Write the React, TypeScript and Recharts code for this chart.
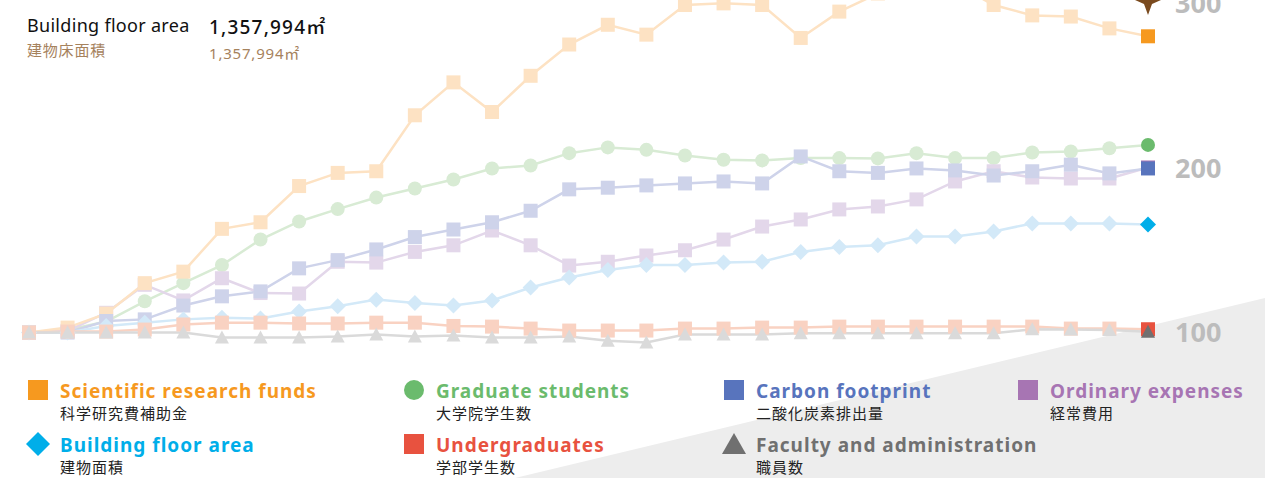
import React from "react";
import { LineChart, Line, XAxis, YAxis, ReferenceDot } from "recharts";

const years = [
  "1990", "1991", "1992", "1993", "1994", "1995", "1996", "1997", "1998", "1999",
  "2000", "2001", "2002", "2003", "2004", "2005", "2006", "2007", "2008", "2009",
  "2010", "2011", "2012", "2013", "2014", "2015", "2016", "2017", "2018", "2019",
];

// index values, first year = 100
const researchFunds = [100, 103, 111.5, 130, 137, 163, 167, 189, 197, 198, 232, 252, 234, 256, 275, 287, 281, 299, 300, 299, 279, 295, 306, 315, 312, 299, 292.7, 292, 284.8, 280];
const graduateStudents = [100, 101.5, 106.7, 119, 130, 141, 156.5, 167.5, 175, 182, 187.5, 193, 199.7, 201.5, 209, 212.5, 211, 207.6, 205, 204.6, 206, 206, 205.8, 209, 206, 206, 209.4, 210, 212, 214];
const carbonFootprint = [100, 100, 107, 108, 116.4, 122, 125, 139, 144, 150.5, 158, 162.6, 167, 174, 187, 188, 189.4, 190.6, 191.8, 190.6, 207, 198, 197, 199.7, 198.5, 195.4, 198, 202, 196.7, 199.7];
const ordinaryExpenses = [100, 101, 112, 129, 119.5, 133, 124, 123.7, 143, 142.5, 149, 153, 162, 153, 140.7, 143, 146.8, 150, 156.5, 164.4, 168.7, 174.8, 176.6, 180.9, 191.8, 198, 194.2, 193.6, 193.6, 200.3];
const floorArea = [100, 100, 104, 106, 108, 109, 108.5, 112.8, 116, 120, 118, 116.4, 119.5, 127.4, 133.4, 138, 141, 141, 142.5, 143, 149, 152, 153, 158.4, 158.4, 161.4, 166.3, 166.3, 166.3, 165.7];
const undergraduates = [100, 100.6, 100.6, 101.8, 104.9, 106, 106, 105.5, 105.5, 106, 106, 104, 103.6, 102.4, 101.2, 101.2, 101.2, 102.4, 102.4, 103, 103, 103.6, 103.6, 103.6, 103.6, 103.6, 103.6, 102.4, 102.4, 102];
const facultyStaff = [100, 100, 100, 100, 100, 97, 97, 97, 97.6, 98.8, 97.6, 98.2, 97, 97, 97.6, 95, 94, 98.8, 98.8, 98.8, 99.5, 99.5, 99.5, 99.5, 99.5, 99.5, 102, 101.8, 101.5, 100.5];

const yTicks = [100, 200, 300];
const markerValue = 302; // brown pin on the latest year

const data = years.map((yr, i) => ({
  yr,
  research: researchFunds[i],
  graduate: graduateStudents[i],
  carbon: carbonFootprint[i],
  expenses: ordinaryExpenses[i],
  floor: floorArea[i],
  undergrad: undergraduates[i],
  faculty: facultyStaff[i],
}));

type Shape = "square" | "circle" | "diamond" | "triangle";

function drawMarker(shape: Shape, cx: number, cy: number, size: number, fill: string, key: string) {
  const h = size / 2;
  if (shape === "circle") return <circle key={key} cx={cx} cy={cy} r={h} fill={fill} />;
  if (shape === "diamond")
    return <polygon key={key} points={`${cx},${cy - h - 1} ${cx + h + 1},${cy} ${cx},${cy + h + 1} ${cx - h - 1},${cy}`} fill={fill} />;
  if (shape === "triangle")
    return <polygon key={key} points={`${cx},${cy - h} ${cx + h},${cy + h - 1} ${cx - h},${cy + h - 1}`} fill={fill} />;
  return <rect key={key} x={cx - h} y={cy - h} width={size} height={size} fill={fill} />;
}

function makeDot(shape: Shape, faded: string, full: string, size = 14) {
  return (props: any) => {
    const { cx, cy, index } = props;
    const last = index === years.length - 1;
    return drawMarker(shape, cx, cy, size, last ? full : faded, `d-${index}`);
  };
}

const SERIES = [
  { key: "graduate", shape: "circle" as Shape, faded: "#d8ebd4", full: "#6bbb6d" },
  { key: "expenses", shape: "square" as Shape, faded: "#e3d7ea", full: "#a775b3" },
  { key: "research", shape: "square" as Shape, faded: "#fde2c3", full: "#f6991f" },
  { key: "carbon", shape: "square" as Shape, faded: "#ced3ea", full: "#5874bd" },
  { key: "floor", shape: "diamond" as Shape, faded: "#d3e9f8", full: "#00aee9" },
  { key: "undergrad", shape: "square" as Shape, faded: "#f9d2c2", full: "#e8523f" },
  { key: "faculty", shape: "triangle" as Shape, faded: "#dadada", full: "#707070" },
];

function Pin(props: any) {
  const { cx, cy } = props;
  const c = "#7a4a1e";
  return (
    <polygon
      points={`${cx},${cy - 15} ${cx + 4},${cy - 4} ${cx + 13},${cy} ${cx + 4},${cy + 4} ${cx},${cy + 15} ${cx - 4},${cy + 4} ${cx - 13},${cy} ${cx - 4},${cy - 4}`}
      fill={c}
    />
  );
}

const LEGEND = [
  { en: "Scientific research funds", jp: "科学研究費補助金", color: "#f6991f", shape: "square", x: 28, y: 390 },
  { en: "Graduate students", jp: "大学院学生数", color: "#6bbb6d", shape: "circle", x: 404, y: 390 },
  { en: "Carbon footprint", jp: "二酸化炭素排出量", color: "#5874bd", shape: "square", x: 724, y: 390 },
  { en: "Ordinary expenses", jp: "経常費用", color: "#a775b3", shape: "square", x: 1018, y: 390 },
  { en: "Building floor area", jp: "建物面積", color: "#00aee9", shape: "diamond", x: 28, y: 444 },
  { en: "Undergraduates", jp: "学部学生数", color: "#e8523f", shape: "square", x: 404, y: 444 },
  { en: "Faculty and administration", jp: "職員数", color: "#707070", shape: "triangle", x: 724, y: 444 },
];

function LegendIcon({ shape, color }: { shape: string; color: string }) {
  return (
    <svg width={24} height={24} style={{ position: "absolute", left: -2, top: -12 }}>
      {shape === "circle" && <circle cx={12} cy={12} r={10} fill={color} />}
      {shape === "square" && <rect x={2} y={2} width={20} height={20} fill={color} />}
      {shape === "diamond" && <polygon points="12,0 24,12 12,24 0,12" fill={color} />}
      {shape === "triangle" && <polygon points="12,1 24,22 0,22" fill={color} />}
    </svg>
  );
}

const FONT = "'Noto Sans', 'Noto Sans CJK JP', sans-serif";
const JP_FONT = "'Noto Sans CJK JP', sans-serif";

export default function App() {
  return (
    <div style={{ position: "absolute", left: 0, top: 0, width: 1265, height: 478, overflow: "hidden", background: "#fff", fontFamily: FONT }}>
      <svg width={1265} height={478} style={{ position: "absolute", left: 0, top: 0 }}>
        <polygon points="515,478 1265,298 1265,478" fill="#ededed" />
      </svg>

      <div style={{ position: "absolute", left: 0, top: -46 }}>
        <LineChart width={1265} height={395} data={data} margin={{ top: 0, right: 0, bottom: 0, left: 29 }}>
          <XAxis dataKey="yr" hide />
          <YAxis
            orientation="right"
            width={117}
            domain={[90, 330]}
            ticks={yTicks}
            axisLine={false}
            tickLine={false}
            tickSize={0}
            tickMargin={27}
            tick={{ fill: "#bcbcbc", fontSize: 27, fontWeight: 700, fontFamily: FONT }}
          />
          {SERIES.map((s) => (
            <Line
              key={s.key}
              dataKey={s.key}
              type="linear"
              stroke={s.faded}
              strokeWidth={2.5}
              dot={makeDot(s.shape, s.faded, s.full)}
              activeDot={false}
              isAnimationActive={false}
            />
          ))}
          <ReferenceDot x={years[years.length - 1]} y={markerValue} shape={Pin} />
        </LineChart>
      </div>

      <div style={{ position: "absolute", left: 27, top: 13, fontSize: 18, letterSpacing: 0.3, color: "#111", whiteSpace: "nowrap" }}>Building floor area</div>
      <div style={{ position: "absolute", left: 209, top: 12, fontSize: 19, fontWeight: 500, letterSpacing: 1.2, color: "#111", whiteSpace: "nowrap" }}>1,357,994㎡</div>
      <div style={{ position: "absolute", left: 27, top: 39, fontSize: 15, letterSpacing: 0.8, color: "#a6825d", fontFamily: JP_FONT, whiteSpace: "nowrap" }}>建物床面積</div>
      <div style={{ position: "absolute", left: 209, top: 42, fontSize: 15, letterSpacing: 0.8, color: "#a6825d", whiteSpace: "nowrap" }}>1,357,994㎡</div>

      {LEGEND.map((l) => (
        <div key={l.en} style={{ position: "absolute", left: l.x, top: l.y }}>
          <LegendIcon shape={l.shape} color={l.color} />
          <div style={{ position: "absolute", left: 32, top: -12, fontSize: 19, fontWeight: 700, letterSpacing: 1, color: l.color, whiteSpace: "nowrap", lineHeight: "26px" }}>{l.en}</div>
          <div style={{ position: "absolute", left: 32, top: 13, fontSize: 15, letterSpacing: 1, color: "#222", whiteSpace: "nowrap", fontFamily: JP_FONT, lineHeight: "20px" }}>{l.jp}</div>
        </div>
      ))}
    </div>
  );
}
